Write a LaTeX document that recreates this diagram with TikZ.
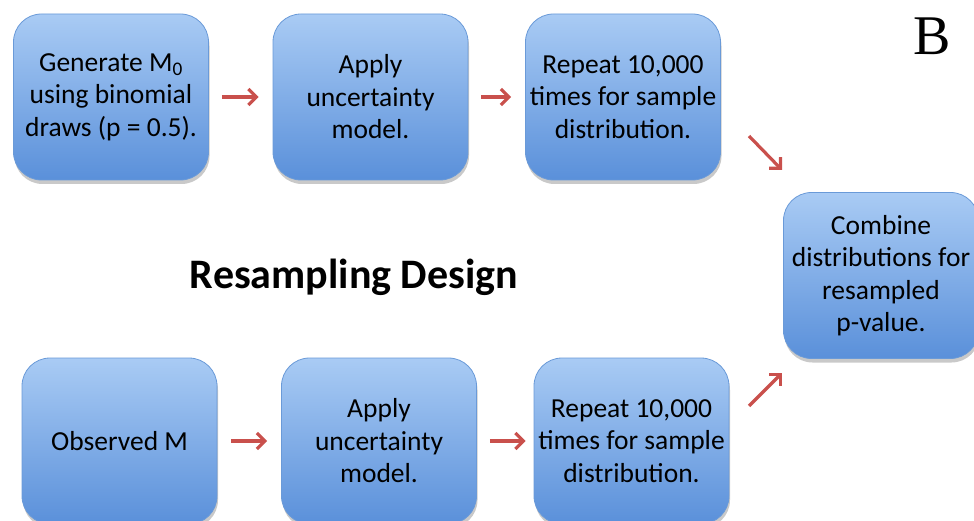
\documentclass[tikz,border=0pt]{standalone}
\usepackage{fontspec}
\setmainfont{Carlito}
\newfontfamily\serifB{Liberation Serif}
\usetikzlibrary{shadows,arrows.meta,calc}
\definecolor{boxtop}{HTML}{A9CBF4}
\definecolor{boxbot}{HTML}{5A90DA}
\definecolor{boxline}{HTML}{6A9AD8}
\definecolor{arrred}{HTML}{C9504C}
\tikzset{
  stepbox/.style={draw=boxline, line width=0.8pt, rounded corners=28pt,
    top color=boxtop, bottom color=boxbot, minimum width=195pt, minimum height=166pt,
    align=center, text=black, inner sep=0pt,
    font=\fontsize{27.5}{32.5}\selectfont,
    drop shadow={shadow xshift=1pt, shadow yshift=-4pt, opacity=0.3, fill=black!70}},
  arr/.style={draw=arrred, line width=3.2pt, -{Straight Barb[length=8pt,width=16pt]}},
}
\begin{document}
\begin{tikzpicture}[x=1pt,y=-1pt]
\useasboundingbox (0,0) rectangle (974,521);
\begin{scope}
\clip (0,0) rectangle (974,521);
\node[stepbox] (b1) at (111,97) {Generate M\textsubscript{0}\\using binomial\\draws (p = 0.5).};
\node[stepbox] (b2) at (370.5,97) {Apply\\uncertainty\\model.};
\node[stepbox] (b3) at (623,97) {Repeat 10,000\\times for sample\\distribution.};
\node[stepbox] (c) at (881,275.5) {Combine\\distributions for\\resampled\\p-value.};
\node[stepbox] (b4) at (119.5,441) {Observed M};
\node[stepbox] (b5) at (379,441) {Apply\\uncertainty\\model.};
\node[stepbox] (b6) at (631.5,441) {Repeat 10,000\\times for sample\\distribution.};
\end{scope}
\node[font=\bfseries\fontsize{42}{44}\selectfont] (title) at (354,277) {Resampling Design};
\node[font=\serifB\fontsize{56}{60}\selectfont, anchor=base] (lab) at (932,55) {B};
\coordinate (d1s) at (749,136);
\coordinate (d1e) at (782,170);
\coordinate (d2s) at (749,406);
\coordinate (d2e) at (782,373);
\draw[arr, shorten <=13pt, shorten >=14pt] (b1.east) -- (b2.west);
\draw[arr, shorten <=13pt, shorten >=14pt] (b2.east) -- (b3.west);
\draw[arr, shorten <=14pt, shorten >=14pt] (b4.east) -- (b5.west);
\draw[arr, shorten <=13pt, shorten >=8pt] (b5.east) -- (b6.west);
\draw[arr] (d1s) -- (d1e);
\draw[arr] (d2s) -- (d2e);
\end{tikzpicture}
\end{document}
